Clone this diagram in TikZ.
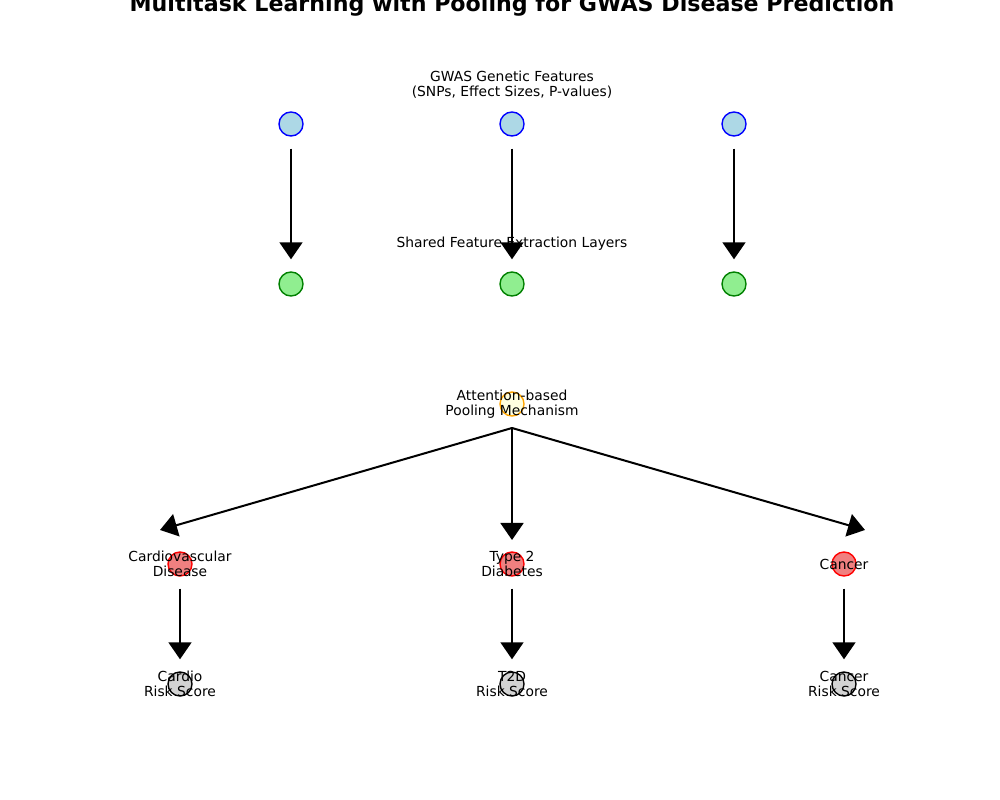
\documentclass[tikz,border=0pt]{standalone}
\usepackage{fontspec}
\setmainfont{DejaVu Sans}
\usetikzlibrary{arrows.meta}
\definecolor{lblue}{HTML}{ADD8E6}
\definecolor{lgreen}{HTML}{90EE90}
\definecolor{dgreen}{HTML}{008000}
\definecolor{lyellow}{HTML}{FFFFE0}
\definecolor{orng}{HTML}{FFA500}
\definecolor{lcoral}{HTML}{F08080}
\definecolor{lgray}{HTML}{D3D3D3}
\tikzset{
  dot/.style={circle, minimum size=24*0.7227pt, inner sep=0pt, line width=1pt},
  inp/.style={dot, fill=lblue, draw=blue},
  shr/.style={dot, fill=lgreen, draw=dgreen},
  pool/.style={dot, fill=lyellow, draw=orng},
  task/.style={dot, fill=lcoral, draw=red},
  outp/.style={dot, fill=lgray, draw=black},
  lbl/.style={font=\fontsize{10}{11}\selectfont, align=center, inner sep=0pt},
  arr/.style={line width=1.45pt, -{Triangle[width=16.6pt,length=12.3pt]}},
  varr/.style={arr, shorten <=12*0.7227pt, shorten >=12*0.7227pt}
}
\begin{document}
\begin{tikzpicture}[x=0.01in, y=-0.01in]
\useasboundingbox (0,0) rectangle (1000,800);
\fill[white] (0,0) rectangle (1000,800);
% title
\node[font=\fontsize{16}{19}\selectfont\bfseries, anchor=base, inner sep=0pt] (title) at (512,12) {Multitask Learning with Pooling for GWAS Disease Prediction};
% circles
\node[inp] (i1) at (291,124) {};
\node[inp] (i2) at (512,124) {};
\node[inp] (i3) at (734,124) {};
\node[shr] (s1) at (291,284) {};
\node[shr] (s2) at (512,284) {};
\node[shr] (s3) at (734,284) {};
\node[pool] (p) at (512,404) {};
\node[task] (t1) at (180,564) {};
\node[task] (t2) at (512,564) {};
\node[task] (t3) at (844,564) {};
\node[outp] (o1) at (180,684) {};
\node[outp] (o2) at (512,684) {};
\node[outp] (o3) at (844,684) {};
% labels
\node[lbl] (li) at (512,85) {GWAS Genetic Features\\(SNPs, Effect Sizes, P-values)};
\node[lbl] (ls) at (512,244) {Shared Feature Extraction Layers};
\node[lbl] (lp) at (512,404) {Attention-based\\Pooling Mechanism};
\node[lbl] (lt1) at (180,564) {Cardiovascular\\Disease};
\node[lbl] (lt2) at (512,564) {Type 2\\Diabetes};
\node[lbl] (lt3) at (844,564) {Cancer};
\node[lbl] (lo1) at (180,684) {Cardio\\Risk Score};
\node[lbl] (lo2) at (512,684) {T2D\\Risk Score};
\node[lbl] (lo3) at (844,684) {Cancer\\Risk Score};
% arrows
\draw[varr] (i1) -- (s1);
\draw[varr] (i2) -- (s2);
\draw[varr] (i3) -- (s3);
\coordinate (pout) at (512,428);
\coordinate (tipL) at (160,530);
\coordinate (tipM) at (512,540);
\coordinate (tipR) at (865,530);
\draw[arr] (pout) -- (tipL);
\draw[arr] (pout) -- (tipM);
\draw[arr] (pout) -- (tipR);
\draw[varr] (t1) -- (o1);
\draw[varr] (t2) -- (o2);
\draw[varr] (t3) -- (o3);
\end{tikzpicture}
\end{document}
